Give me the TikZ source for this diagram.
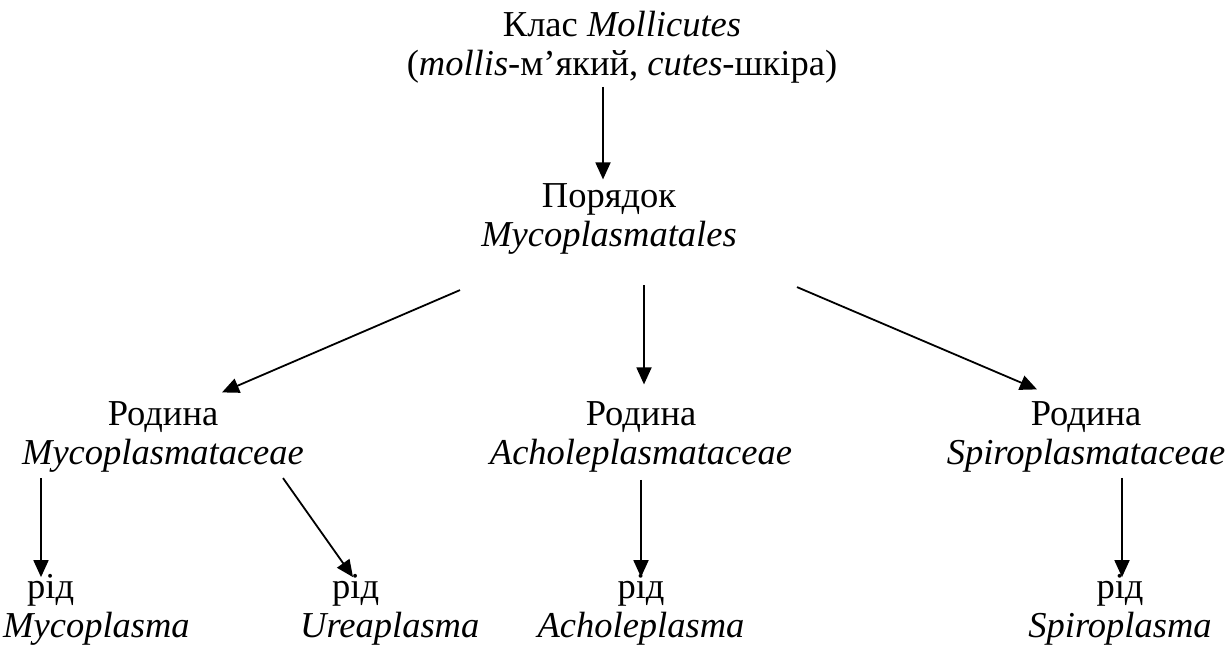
\documentclass[tikz,border=0pt]{standalone}
\usepackage{fontspec}
\setmainfont{Liberation Serif}
\usetikzlibrary{arrows.meta,calc}
\begin{document}
\begin{tikzpicture}[x=1pt,y=-1pt,
  lbl/.style={inner sep=0pt, align=center, font=\fontsize{36.5}{38.5}\selectfont},
  arr/.style={line width=1.8pt, -{Triangle[length=17pt,width=15pt]}}]
  \useasboundingbox (0,0) rectangle (1232,646);

  % class and order
  \node[lbl, anchor=base] (cls) at (622,75) {Клас \textit{Mollicutes}\\(\textit{mollis}-м’який, \textit{cutes}-шкіра)};
  \node[lbl, anchor=base] (ord) at (609,246) {Порядок\\\textit{Mycoplasmatales}};

  % families
  \node[lbl, anchor=base] (f1) at (163,464) {Родина\\\textit{Mycoplasmataceae}};
  \node[lbl, anchor=base] (f2) at (641,464) {Родина\\\textit{Acholeplasmataceae}};
  \node[lbl, anchor=base] (f3) at (1086,464) {Родина\\\textit{Spiroplasmataceae}};

  % genera
  \node[lbl, align=left, anchor=base west] (g1) at (3,637) {\hspace*{24pt}рід\\\textit{Mycoplasma}};
  \node[lbl, align=left, anchor=base west] (g2) at (300,637) {\hspace*{32pt}рід\\\textit{Ureaplasma}};
  \node[lbl, anchor=base] (g3) at (641,637) {рід\\\textit{Acholeplasma}};
  \node[lbl, anchor=base] (g4) at (1120,637) {рід\\\textit{Spiroplasma}};

  % connectors
  \draw[arr] ([shift={(-19,4)}]cls.south) -- ([shift={(-6,-4)}]ord.north);
  \draw[arr] ([shift={(-149,36)}]ord.south) -- ([shift={(59,-9)}]f1.north);
  \draw[arr] ([shift={(35,31)}]ord.south) -- ([shift={(3,-17)}]f2.north);
  \draw[arr] ([shift={(188,33)}]ord.south) -- ([shift={(-49,-12)}]f3.north);
  \draw[arr] ([shift={(-122,6)}]f1.south) -- ([shift={(38,3)}]g1.north west);
  \draw[arr] ([shift={(120,6)}]f1.south) -- ([shift={(53,3)}]g2.north west);
  \draw[arr] ([shift={(0,8)}]f2.south) -- ([shift={(0,3)}]g3.north);
  \draw[arr] ([shift={(36,6)}]f3.south) -- ([shift={(2,3)}]g4.north);
\end{tikzpicture}
\end{document}
